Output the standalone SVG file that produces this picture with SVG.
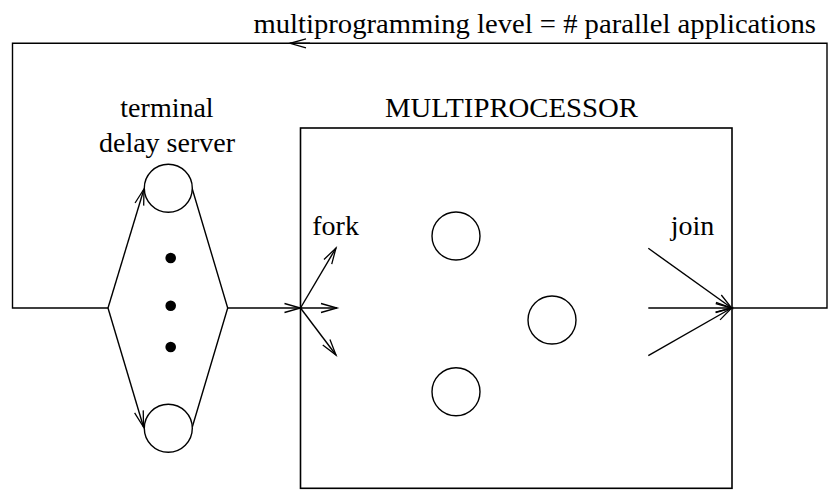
<svg xmlns="http://www.w3.org/2000/svg" width="835" height="498" viewBox="0 0 835 498">
  <style>
    .ln { fill: none; stroke: #000; stroke-width: 1.4; }
    .bx { fill: none; stroke: #000; stroke-width: 1.6; }
    .srv { fill: #fff; stroke: #000; stroke-width: 1.4; }
    .dot { fill: #000; }
    .lbl { font-family: "Liberation Serif", "Times New Roman", serif; font-size: 28px; fill: #000; }
    .arr { marker-end: url(#open); }
  </style>
  <defs>
    <marker id="open" markerUnits="userSpaceOnUse" markerWidth="20" markerHeight="12" refX="16" refY="4.5" orient="auto" overflow="visible">
      <path d="M0,0 L16,4.5 L0,9" fill="none" stroke="#000" stroke-width="1.3"/>
    </marker>
  </defs>

  <!-- feedback loop around the whole system -->
  <g id="connectors">
    <path class="ln" d="M732,308 H827 V43.3 H12.5 V308 H108"/>
    <path class="ln arr" d="M310,43.3 H290"/>
    <!-- branches to the terminal delay servers -->
    <path class="ln arr" d="M108,308 L144,189"/>
    <path class="ln arr" d="M108,308 L143.5,427"/>
    <path class="ln" d="M192.3,189 L227.7,308 L192.3,427"/>
    <!-- into the multiprocessor -->
    <path class="ln arr" d="M227.7,308 H300.5"/>
    <!-- fork -->
    <path class="ln arr" d="M300.5,308 L336,248"/>
    <path class="ln arr" d="M300.5,308 H337"/>
    <path class="ln arr" d="M300.5,308 L336,355"/>
    <!-- join -->
    <path class="ln arr" d="M648.3,248.3 L731.7,308"/>
    <path class="ln arr" d="M648.3,308 H731.7"/>
    <path class="ln arr" d="M648.3,355.7 L731.7,308"/>
  </g>

  <text class="lbl" x="253.5" y="33" textLength="562.5" lengthAdjust="spacingAndGlyphs">multiprogramming level = # parallel applications</text>

  <g id="terminal-delay-server">
    <text class="lbl" x="167" y="116.7" text-anchor="middle">terminal</text>
    <text class="lbl" x="167" y="151.7" text-anchor="middle">delay server</text>
    <circle class="srv" cx="168.3" cy="188.3" r="24"/>
    <circle class="srv" cx="168.3" cy="428.3" r="24"/>
    <circle class="dot" cx="170.7" cy="258" r="5.3"/>
    <circle class="dot" cx="170.7" cy="305.7" r="5.3"/>
    <circle class="dot" cx="170.7" cy="347" r="5.3"/>
  </g>

  <g id="multiprocessor">
    <text class="lbl" x="385" y="116.7" textLength="253" lengthAdjust="spacingAndGlyphs">MULTIPROCESSOR</text>
    <rect class="bx" x="300.5" y="128" width="431.5" height="360.3"/>
    <circle class="srv" cx="456" cy="236" r="24"/>
    <circle class="srv" cx="552" cy="320" r="24"/>
    <circle class="srv" cx="456" cy="391.7" r="24"/>
  </g>

  <g id="fork">
    <text class="lbl" x="312.3" y="235">fork</text>
  </g>
  <g id="join">
    <text class="lbl" x="670.7" y="235">join</text>
  </g>
</svg>
